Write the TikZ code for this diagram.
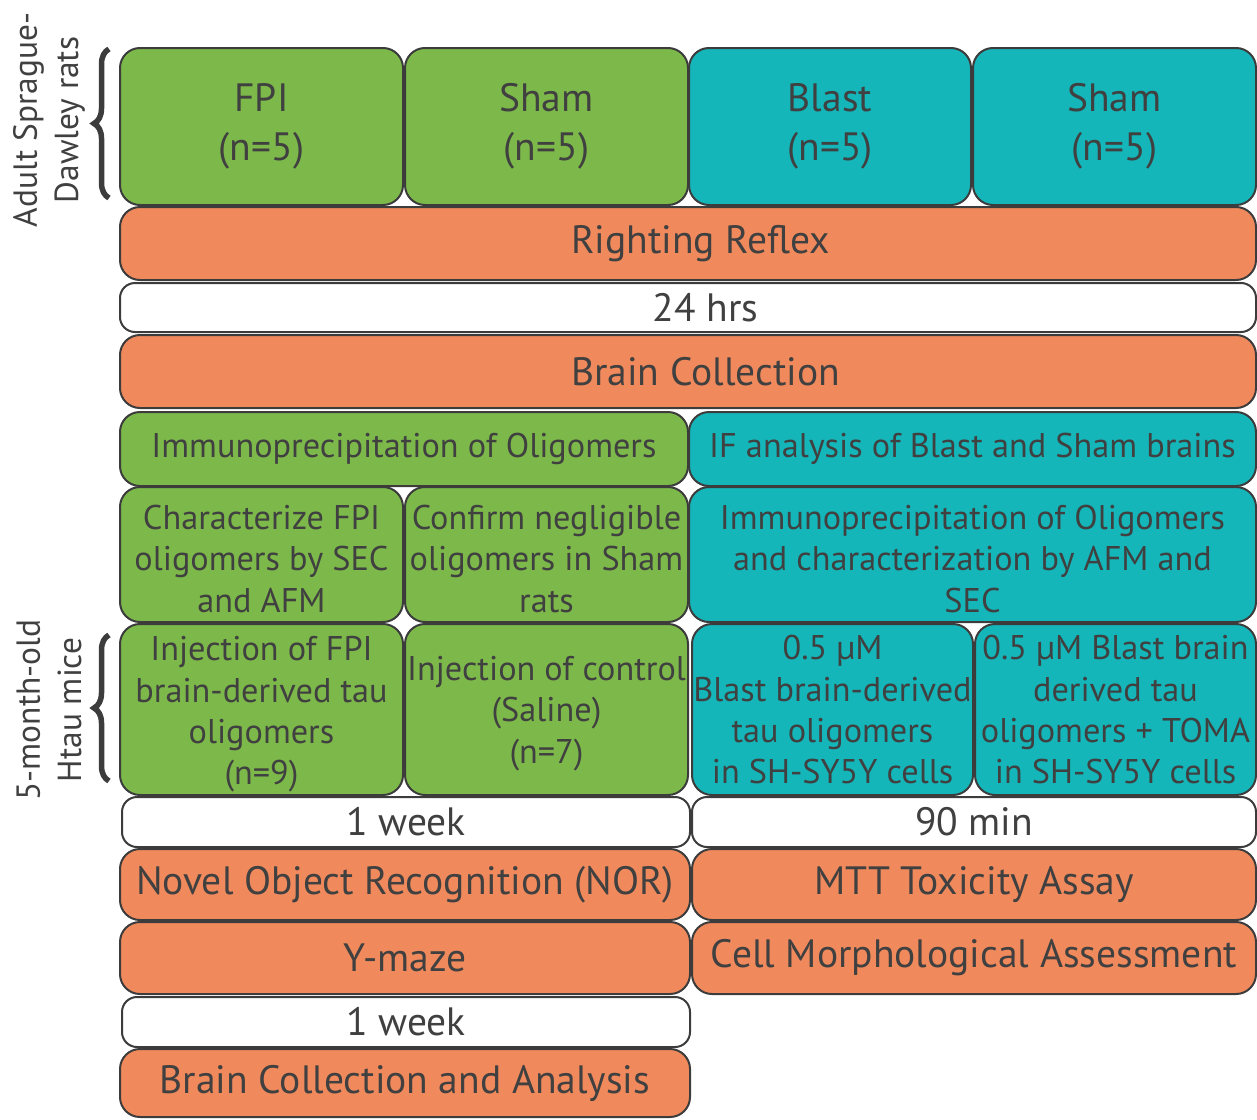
\documentclass[tikz,border=0pt]{standalone}
\usepackage{fontspec}
\setmainfont{PT Sans}
\usetikzlibrary{decorations.pathreplacing}
\definecolor{BoxGreen}{RGB}{125,185,74}
\definecolor{BoxTeal}{RGB}{20,182,186}
\definecolor{BoxOrange}{RGB}{240,138,93}
\definecolor{LineGray}{RGB}{60,60,60}
\definecolor{TextGray}{RGB}{64,64,64}
\tikzset
{
  BoxStyle/.style =
  {
    shape = rectangle,
    rounded corners = 4mm,
    draw = LineGray,
    line width = 0.04cm,
    text = TextGray,
    align = center,
    inner sep = 0pt,
    font = \fontsize{19.5pt}{23.6pt}\selectfont,
  },
  GreenBoxStyle/.style = {BoxStyle, fill = BoxGreen},
  TealBoxStyle/.style = {BoxStyle, fill = BoxTeal},
  OrangeBoxStyle/.style = {BoxStyle, fill = BoxOrange},
  WhiteBoxStyle/.style = {BoxStyle, fill = white, rounded corners = 3mm},
  LargeTextStyle/.style = {font = \fontsize{22.5pt}{28pt}\selectfont},
  BoxSize/.style 2 args = {minimum width = #1*0.02cm, minimum height = #2*0.02cm},
  BraceStyle/.style =
  {
    draw = LineGray,
    line width = 0.11cm,
    decorate,
    decoration = {brace, amplitude = 0.3cm},
  },
  SideLabelStyle/.style =
  {
    rotate = 90,
    align = center,
    text = TextGray,
    font = \fontsize{19pt}{23.5pt}\selectfont,
  }
}

\begin{document}
\begin{tikzpicture}[x=0.02cm, y=-0.02cm]
  \useasboundingbox (0,0) rectangle (1257,1119);

  % animal groups
  \node[GreenBoxStyle, LargeTextStyle, BoxSize={283}{157}] (fpi) at (261.5,126.5) {FPI\\(n=5)};
  \node[GreenBoxStyle, LargeTextStyle, BoxSize={283}{157}] (shamFpi) at (546.5,126.5) {Sham\\(n=5)};
  \node[TealBoxStyle, LargeTextStyle, BoxSize={282}{157}] (blast) at (830,126.5) {Blast\\(n=5)};
  \node[TealBoxStyle, LargeTextStyle, BoxSize={283}{157}] (shamBlast) at (1114.5,126.5) {Sham\\(n=5)};

  % common steps
  \node[OrangeBoxStyle, LargeTextStyle, BoxSize={1136}{73}] (righting) at (688,243.5) {\hspace*{0.5cm}Righting Reflex};
  \node[WhiteBoxStyle, LargeTextStyle, BoxSize={1136}{49}] (hours) at (688,307.5) {\hspace*{0.7cm}24 hrs};
  \node[OrangeBoxStyle, LargeTextStyle, BoxSize={1136}{73}] (collection) at (688,371.5) {\hspace*{0.7cm}Brain Collection};

  % FPI branch
  \node[GreenBoxStyle, BoxSize={568}{74}] (ipFpi) at (404,449) {Immunoprecipitation of Oligomers};
  \node[GreenBoxStyle, BoxSize={283}{135}] (charFpi) at (261.5,554.5) {%
    \raisebox{-0.16cm}[\height][\depth]{\begin{tabular}{@{}c@{}}
    Characterize FPI \\
    oligomers by SEC \\
    and AFM
    \end{tabular}}%
  };
  \node[GreenBoxStyle, BoxSize={283}{135}] (confirmSham) at (546.5,554.5) {%
    \raisebox{-0.16cm}[\height][\depth]{\begin{tabular}{@{}c@{}}
    Confirm negligible \\
    oligomers in Sham \\
    rats
    \end{tabular}}%
  };
  \node[GreenBoxStyle, BoxSize={283}{171}] (injFpi) at (261.5,709.5) {%
    \raisebox{-0.1cm}[\height][\depth]{\begin{tabular}{@{}c@{}}
    Injection of FPI \\
    brain-derived tau \\
    oligomers \\
    (n=9)
    \end{tabular}}%
  };
  \node[GreenBoxStyle, BoxSize={283}{171}] (injControl) at (546.5,709.5) {%
    \raisebox{-0.08cm}[\height][\depth]{\begin{tabular}{@{}c@{}}
    Injection of control \\
    (Saline) \\
    (n=7)
    \end{tabular}}%
  };
  \node[WhiteBoxStyle, LargeTextStyle, BoxSize={568}{50}] (weekA) at (406,822) {1 week};
  \node[OrangeBoxStyle, LargeTextStyle, BoxSize={570}{71}] (nor) at (405,884.5) {Novel Object Recognition (NOR)};
  \node[OrangeBoxStyle, LargeTextStyle, BoxSize={570}{72}] (ymaze) at (405,958) {Y-maze};
  \node[WhiteBoxStyle, LargeTextStyle, BoxSize={568}{50}] (weekB) at (406,1022) {1 week};
  \node[OrangeBoxStyle, LargeTextStyle, BoxSize={570}{68}] (analysis) at (405,1083) {Brain Collection and Analysis};

  % Blast branch
  \node[TealBoxStyle, BoxSize={567}{74}] (ifBlast) at (972.5,449) {IF analysis of Blast and Sham brains};
  \node[TealBoxStyle, BoxSize={567}{135}] (ipBlast) at (972.5,554.5) {%
    \raisebox{-0.16cm}[\height][\depth]{\begin{tabular}{@{}c@{}}
    Immunoprecipitation of Oligomers \\
    and characterization by AFM and \\
    SEC
    \end{tabular}}%
  };
  \node[TealBoxStyle, BoxSize={281}{171}] (cellsBlast) at (832.5,709.5) {%
    \raisebox{-0.08cm}[\height][\depth]{\begin{tabular}{@{}c@{}}
    0.5 µM \\
    Blast brain-derived \\
    tau oligomers \\
    in SH-SY5Y cells
    \end{tabular}}%
  };
  \node[TealBoxStyle, BoxSize={281}{171}] (cellsToma) at (1115.5,709.5) {%
    \raisebox{-0.08cm}[\height][\depth]{\begin{tabular}{@{}c@{}}
    0.5 µM Blast brain \\
    derived tau \\
    oligomers + TOMA \\
    in SH-SY5Y cells
    \end{tabular}}%
  };
  \node[WhiteBoxStyle, LargeTextStyle, BoxSize={564}{50}] (minutes) at (974,822) {90 min};
  \node[OrangeBoxStyle, LargeTextStyle, BoxSize={564}{71}] (mtt) at (974,884.5) {MTT Toxicity Assay};
  \node[OrangeBoxStyle, LargeTextStyle, BoxSize={564}{72}] (morph) at (974,958) {Cell Morphological Assessment};

  % side labels
  \draw[BraceStyle] ([xshift=-0.2cm, yshift=0.16cm]fpi.south west) -- ([xshift=-0.2cm, yshift=-0.04cm]fpi.north west);
  \draw[BraceStyle] ([xshift=-0.2cm, yshift=0.3cm]injFpi.south west) -- ([xshift=-0.2cm, yshift=-0.24cm]injFpi.north west);
  \node[SideLabelStyle] (rats) at (49,120) {Adult Sprague-\\Dawley rats};
  \node[SideLabelStyle] (mice) at (49,710) {5-month-old\\Htau mice};
\end{tikzpicture}
\end{document}
